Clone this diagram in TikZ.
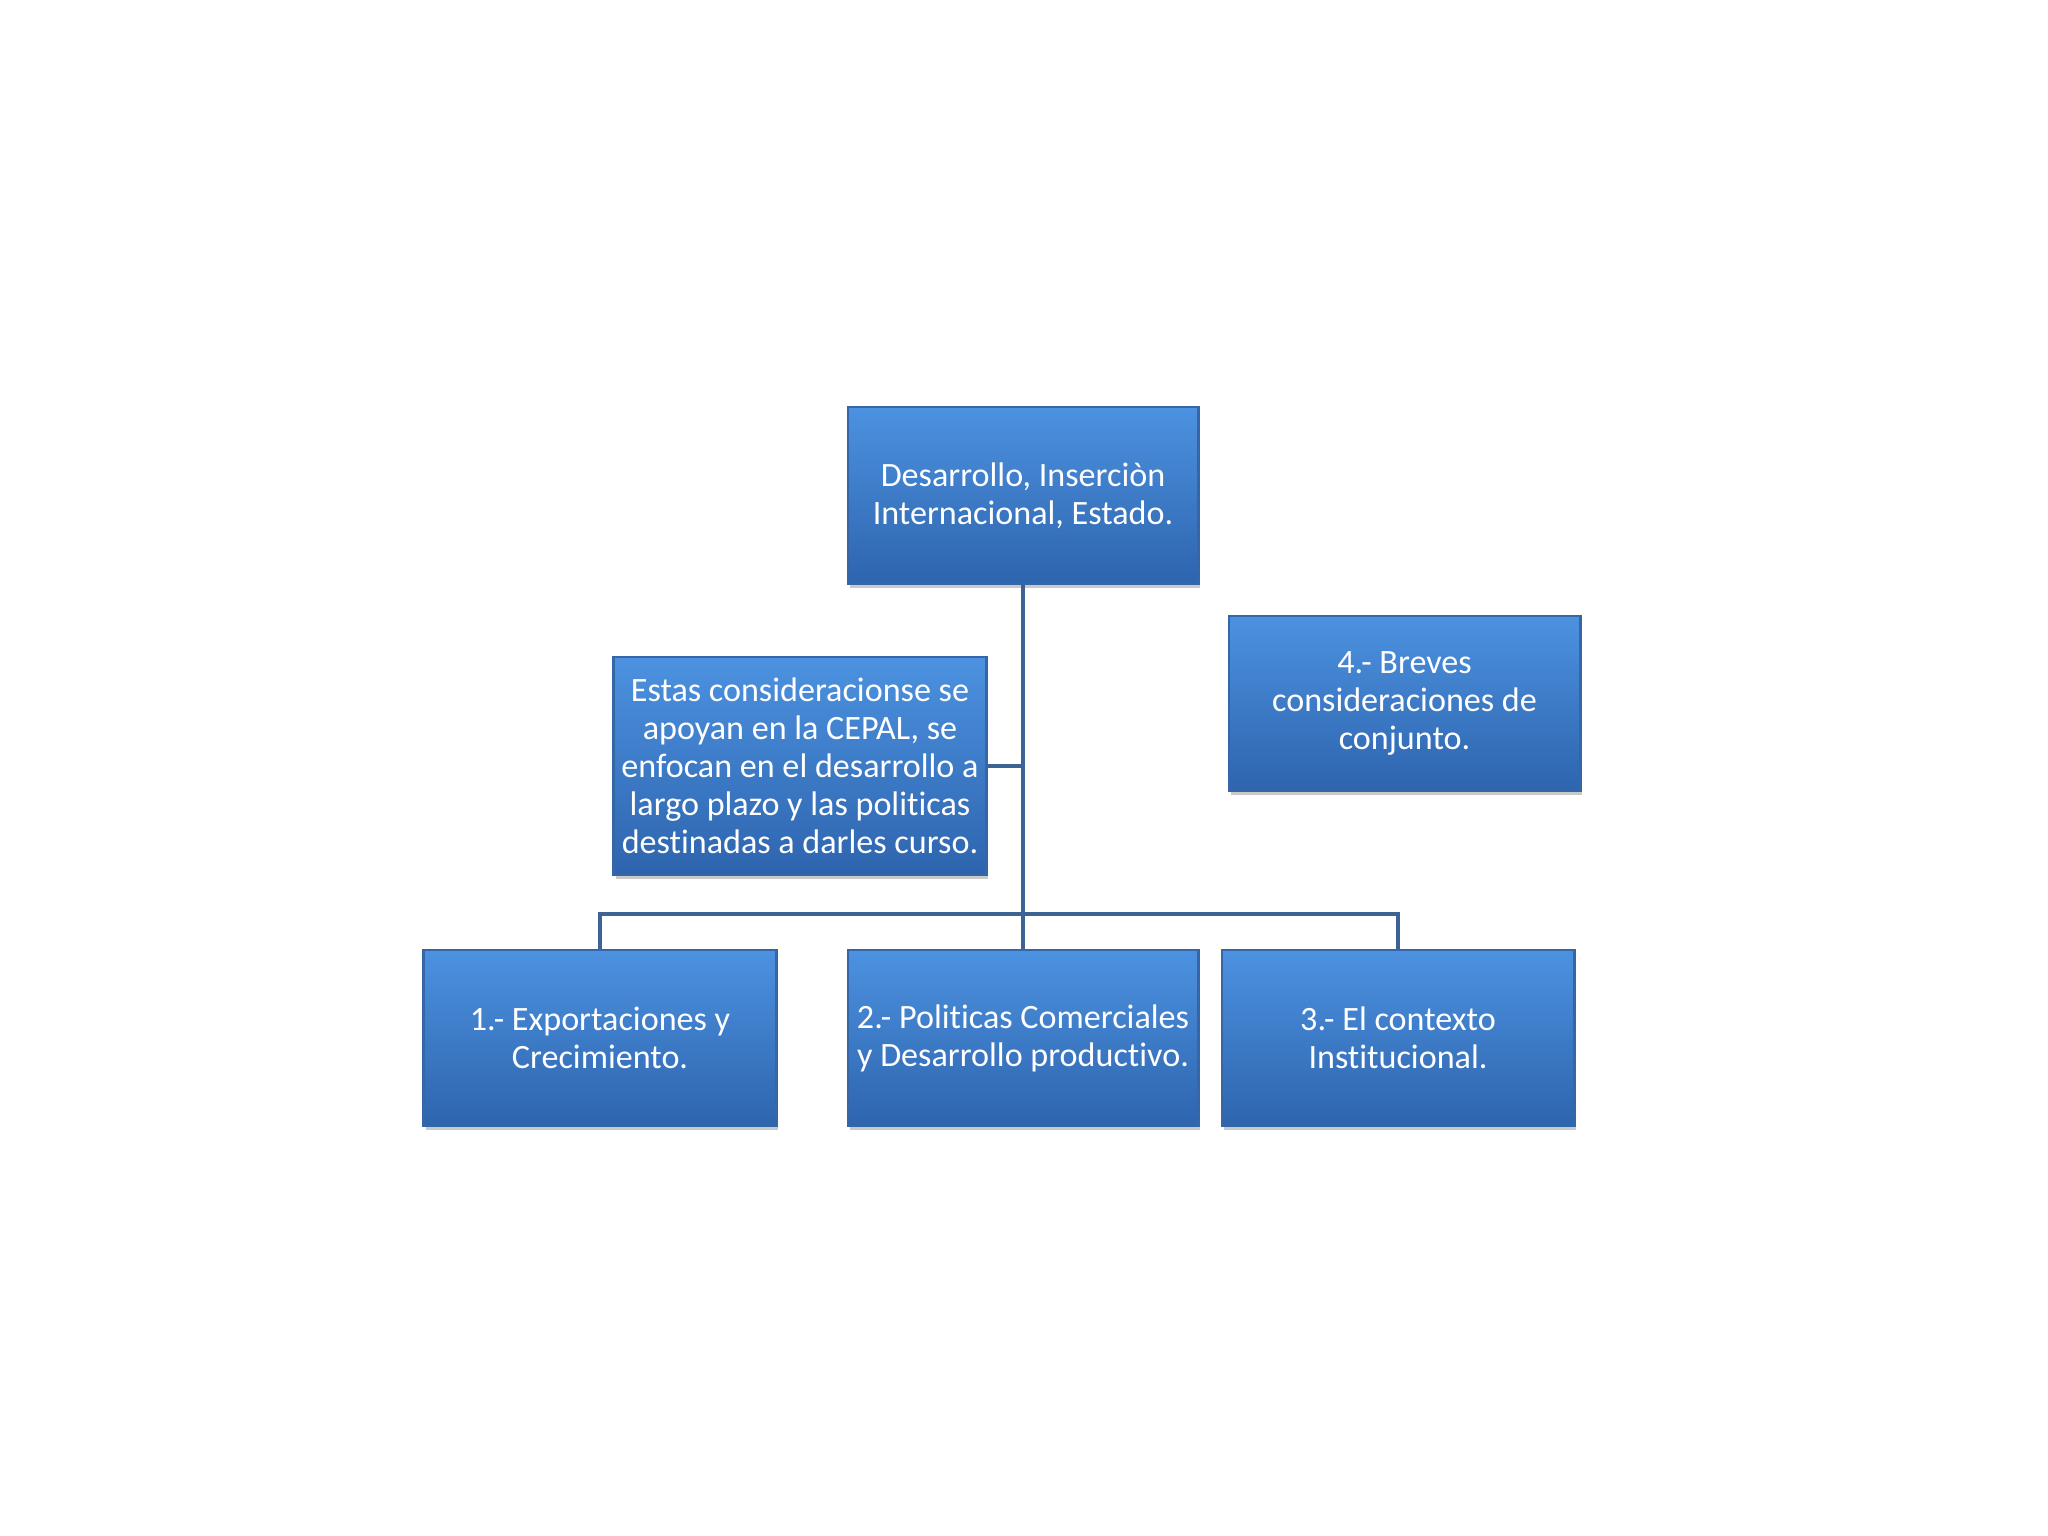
\documentclass[tikz,border=0pt]{standalone}
\usepackage{fontspec}
\setmainfont[Ligatures=NoCommon]{Carlito}
\usetikzlibrary{shadows,calc}
\definecolor{boxtop}{HTML}{4C92E0}
\definecolor{boxbot}{HTML}{2E64AE}
\definecolor{boxedge}{HTML}{3567A8}
\definecolor{linec}{HTML}{3D6394}
\begin{document}
\begin{tikzpicture}[x=0.01cm,y=-0.01cm,
  box/.style={rectangle, top color=boxtop, bottom color=boxbot, draw=boxedge, line width=0.8pt,
    drop shadow={shadow xshift=0.6pt, shadow yshift=-1.2pt, opacity=0.35, fill=black!60},
    text=white, align=center, font=\fontsize{9.7}{10.8}\selectfont, inner sep=0pt},
  conn/.style={draw=linec, line width=1.4pt}]
\useasboundingbox (0,0) rectangle (2048,1536);
\fill[white] (0,0) rectangle (2048,1536);
\node[box, minimum width=3.50cm, minimum height=1.77cm] (top) at (1023,495.5) {Desarrollo, Inserciòn\\Internacional, Estado.};
\node[box, minimum width=3.72cm, minimum height=2.18cm] (left) at (800,766) {Estas consideracionse se\\apoyan en la CEPAL, se\\enfocan en el desarrollo a\\largo plazo y las politicas\\destinadas a darles curso.};
\node[box, minimum width=3.51cm, minimum height=1.75cm] (right) at (1404.5,703.5) {4.- Breves\\consideraciones de\\conjunto.};
\node[box, minimum width=3.52cm, minimum height=1.76cm] (b1) at (600,1038) {1.- Exportaciones y\\Crecimiento.};
\node[box, minimum width=3.50cm, minimum height=1.76cm] (b2) at (1023,1038) {2.- Politicas Comerciales\\y Desarrollo productivo.};
\node[box, minimum width=3.52cm, minimum height=1.76cm] (b3) at (1398,1038) {3.- El contexto\\Institucional.};
\coordinate (j) at (b2.north |- 0,914);
\draw[conn] (top.south) -- (j);
\draw[conn] (left.east) -- (left.east -| top.south);
\draw[conn] (j) -- (b2.north);
\draw[conn] (j) -| (b1.north);
\draw[conn] (j) -| (b3.north);
\end{tikzpicture}
\end{document}
